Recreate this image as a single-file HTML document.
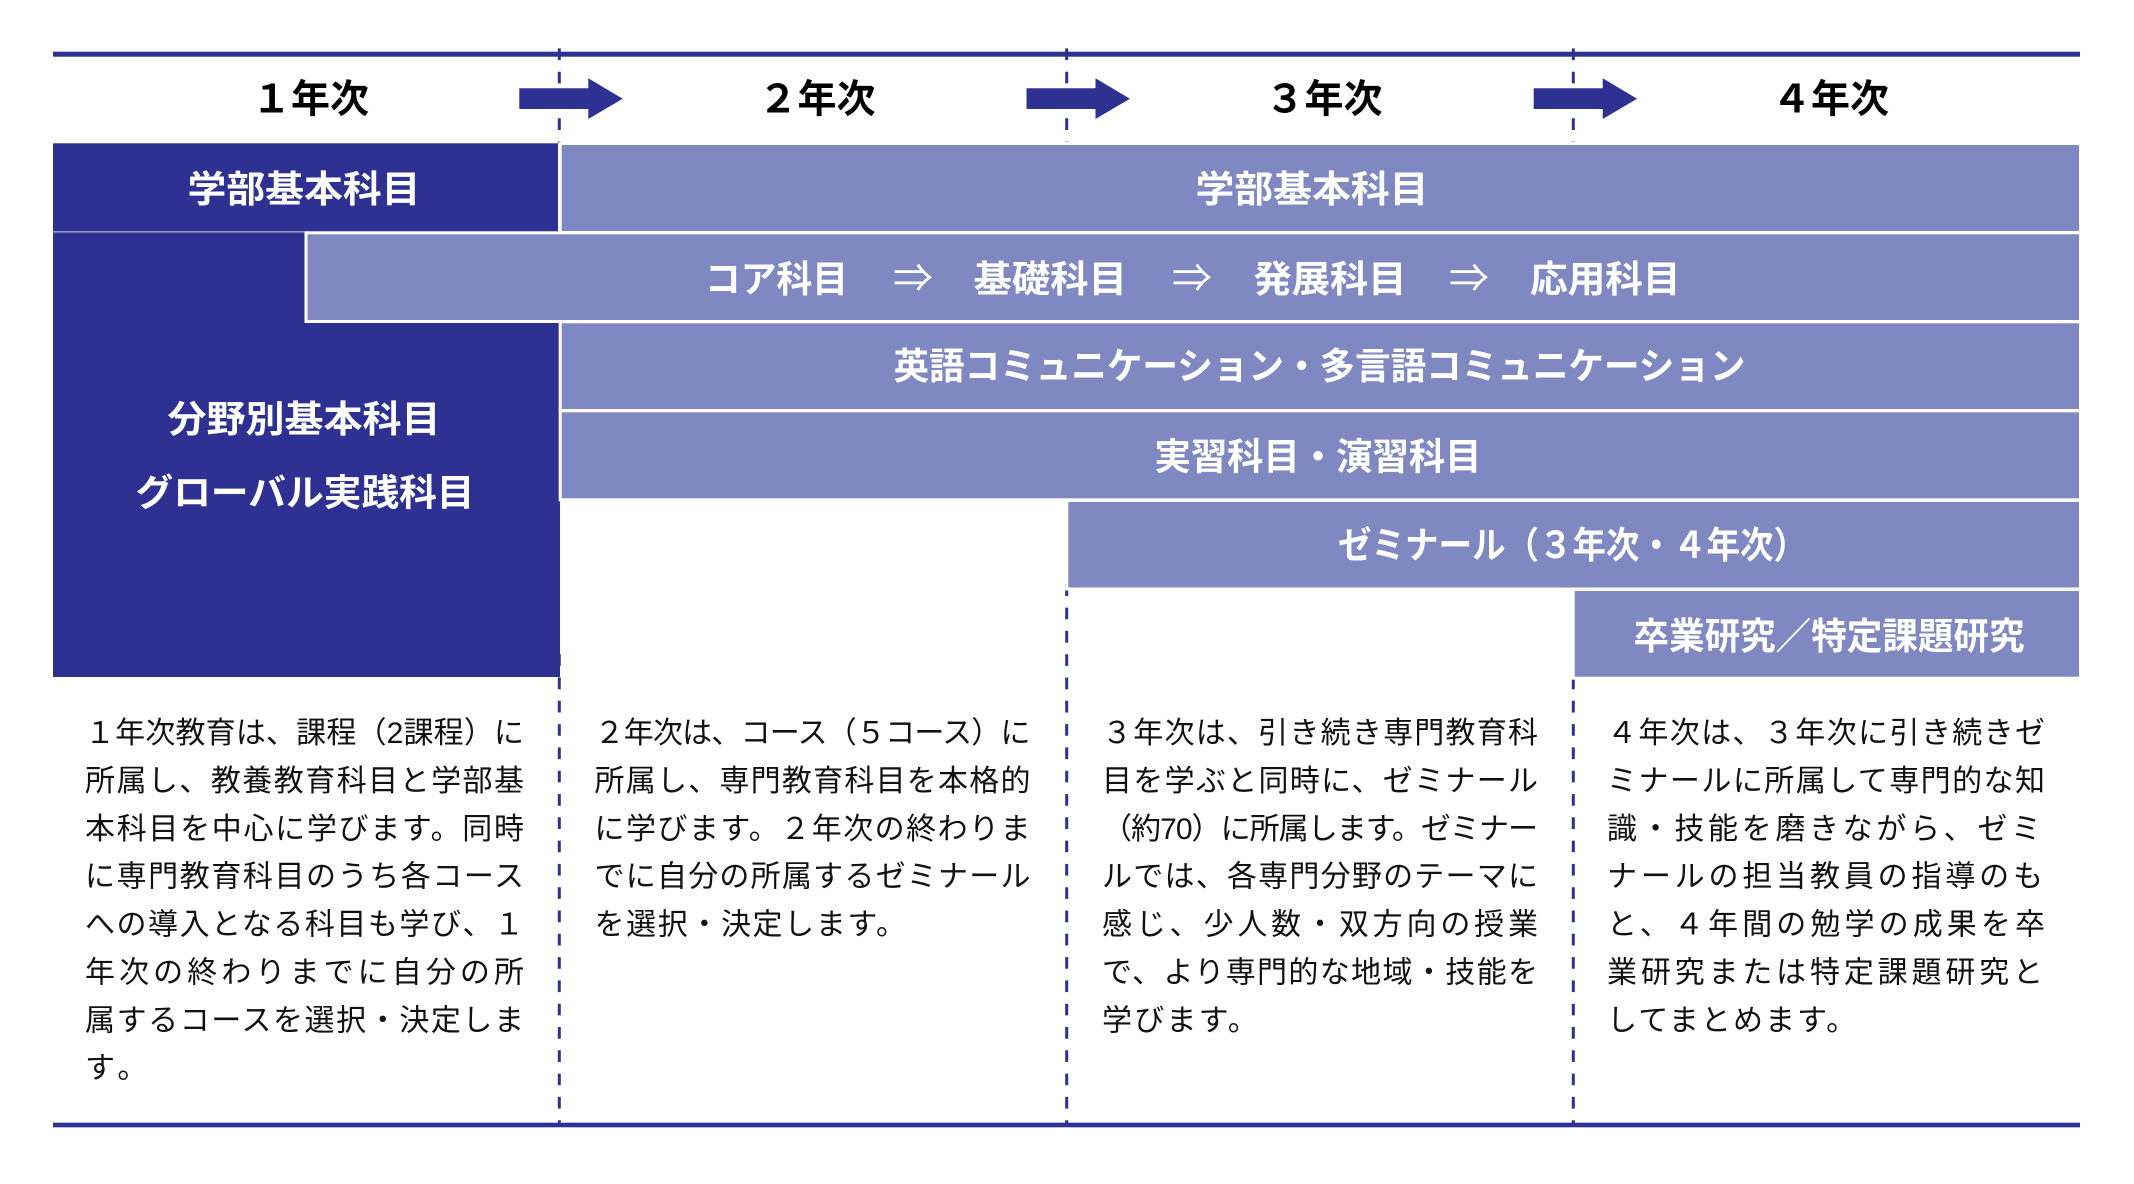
<!DOCTYPE html>
<html lang="ja">
<head>
<meta charset="utf-8">
<style>
  html,body{margin:0;padding:0;background:#ffffff;}
  body{width:2134px;height:1184px;overflow:hidden;}
  svg{display:block;}
  .hd{font-family:"Liberation Sans","Noto Sans CJK JP",sans-serif;font-weight:700;font-size:39px;fill:#000;}
  .bd{font-family:"Liberation Sans","Noto Sans CJK JP",sans-serif;font-weight:700;font-size:37px;fill:#ffffff;}
  .ar{font-family:"Noto Sans CJK JP","Liberation Sans",sans-serif;font-weight:400;font-size:40px;fill:#ffffff;}
  .tx{font-family:"Liberation Sans","Noto Sans CJK JP",sans-serif;font-weight:400;font-size:30px;fill:#111111;}
</style>
</head>
<body>
<svg width="2134" height="1184" viewBox="0 0 2134 1184" xmlns="http://www.w3.org/2000/svg">
  <rect x="0" y="0" width="2134" height="1184" fill="#ffffff"/>

  <!-- dashed column dividers (drawn under boxes) -->
  <g stroke="#2e3192" stroke-width="3" stroke-dasharray="11.7 11.6" fill="none">
    <line x1="559.3" y1="48.4" x2="559.3" y2="143"/>
    <line x1="1066.7" y1="48.4" x2="1066.7" y2="143"/>
    <line x1="1573.3" y1="48.4" x2="1573.3" y2="143"/>
    <line x1="559.3" y1="654.2" x2="559.3" y2="1125"/>
    <line x1="1066.7" y1="584.3" x2="1066.7" y2="1125"/>
    <line x1="1573.3" y1="677.5" x2="1573.3" y2="1125"/>
  </g>

  <!-- top and bottom rules -->
  <rect x="53" y="51.7" width="2027" height="5" fill="#2e3192"/>
  <rect x="53" y="1122.7" width="2027" height="4.6" fill="#2e3192"/>

  <!-- header arrows -->
  <g fill="#2e3192">
    <polygon points="519.3,88.3 588.3,88.3 588.3,78.3 622.7,98.7 588.3,119 588.3,109 519.3,109"/>
    <polygon points="1026.5,88.3 1095.5,88.3 1095.5,78.3 1129.9,98.7 1095.5,119 1095.5,109 1026.5,109"/>
    <polygon points="1533.7,88.3 1602.7,88.3 1602.7,78.3 1637.1,98.7 1602.7,119 1602.7,109 1533.7,109"/>
  </g>

  <!-- header labels -->
  <text class="hd" x="310.5" y="112.5" text-anchor="middle">１年次</text>
  <text class="hd" x="817" y="112.5" text-anchor="middle">２年次</text>
  <text class="hd" x="1324" y="112.5" text-anchor="middle">３年次</text>
  <text class="hd" x="1830.5" y="112.5" text-anchor="middle">４年次</text>

  <!-- dark boxes -->
  <rect x="53" y="143.3" width="505" height="88.2" fill="#2e3192"/>
  <rect x="53" y="233" width="507" height="444" fill="#2e3192"/>
  <rect x="53" y="232" width="253" height="1.2" fill="#6a6fb3"/>

  <!-- light boxes with white outlines -->
  <g fill="#8088c2" stroke="#ffffff" stroke-width="3">
    <rect x="560.2" y="143.5" width="1520.3" height="89"/>
    <rect x="306" y="232.8" width="1774.5" height="88.7"/>
    <rect x="560.2" y="321.8" width="1520.3" height="88.7"/>
    <rect x="560.2" y="410.8" width="1520.3" height="89"/>
    <rect x="1066.8" y="500.5" width="1013.7" height="88.5"/>
    <rect x="1573.2" y="589.5" width="507.3" height="88.7"/>
  </g>

  <!-- band labels -->
  <text class="bd" x="187.5" y="202" textLength="233" lengthAdjust="spacingAndGlyphs">学部基本科目</text>
  <text class="bd" x="1195.5" y="202" textLength="233" lengthAdjust="spacingAndGlyphs">学部基本科目</text>

  <text class="bd" x="705" y="292" textLength="143" lengthAdjust="spacingAndGlyphs">コア科目</text>
  <text class="ar" x="913" y="292" text-anchor="middle">⇒</text>
  <text class="bd" x="973.5" y="292" textLength="153.5" lengthAdjust="spacingAndGlyphs">基礎科目</text>
  <text class="ar" x="1192" y="292" text-anchor="middle">⇒</text>
  <text class="bd" x="1253.5" y="292" textLength="153" lengthAdjust="spacingAndGlyphs">発展科目</text>
  <text class="ar" x="1469" y="292" text-anchor="middle">⇒</text>
  <text class="bd" x="1530" y="292" textLength="150.5" lengthAdjust="spacingAndGlyphs">応用科目</text>

  <text class="bd" x="893.5" y="379" textLength="852" lengthAdjust="spacingAndGlyphs">英語コミュニケーション・多言語コミュニケーション</text>
  <text class="bd" x="1154.5" y="469.5" textLength="327" lengthAdjust="spacingAndGlyphs">実習科目・演習科目</text>
  <text class="bd" x="1338" y="558" textLength="469" lengthAdjust="spacingAndGlyphs">ゼミナール（３年次・４年次）</text>
  <text class="bd" x="1633.5" y="649" textLength="391" lengthAdjust="spacingAndGlyphs">卒業研究／特定課題研究</text>

  <text class="bd" x="167.5" y="432" textLength="273" lengthAdjust="spacingAndGlyphs">分野別基本科目</text>
  <text class="bd" x="135.5" y="505.7" textLength="339" lengthAdjust="spacingAndGlyphs">グローバル実践科目</text>

  <!-- column 1 text -->
  <g class="tx">
    <text class="tx" x="85" y="743.1" textLength="439" lengthAdjust="spacing">１年次教育は、課程（2課程）に</text>
    <text class="tx" x="85" y="791" textLength="439" lengthAdjust="spacing">所属し、教養教育科目と学部基</text>
    <text class="tx" x="85" y="838.8" textLength="439" lengthAdjust="spacing">本科目を中心に学びます。同時</text>
    <text class="tx" x="85" y="886.7" textLength="439" lengthAdjust="spacing">に専門教育科目のうち各コース</text>
    <text class="tx" x="85" y="934.5" textLength="439" lengthAdjust="spacing">への導入となる科目も学び、１</text>
    <text class="tx" x="85" y="982.4" textLength="439" lengthAdjust="spacing">年次の終わりまでに自分の所</text>
    <text class="tx" x="85" y="1030.3" textLength="439" lengthAdjust="spacing">属するコースを選択・決定しま</text>
    <text class="tx" x="85" y="1078.1" textLength="62.4" lengthAdjust="spacing">す。</text>
  </g>

  <!-- column 2 text -->
  <g>
    <text class="tx" x="594.5" y="743.1" textLength="436" lengthAdjust="spacing">２年次は、コース（５コース）に</text>
    <text class="tx" x="594.5" y="791" textLength="436" lengthAdjust="spacing">所属し、専門教育科目を本格的</text>
    <text class="tx" x="594.5" y="838.8" textLength="436" lengthAdjust="spacing">に学びます。２年次の終わりま</text>
    <text class="tx" x="594.5" y="886.7" textLength="436" lengthAdjust="spacing">でに自分の所属するゼミナール</text>
    <text class="tx" x="594.5" y="934.5" textLength="311.5" lengthAdjust="spacing">を選択・決定します。</text>
  </g>

  <!-- column 3 text -->
  <g>
    <text class="tx" x="1102" y="743.1" textLength="436" lengthAdjust="spacing">３年次は、引き続き専門教育科</text>
    <text class="tx" x="1102" y="791" textLength="436" lengthAdjust="spacing">目を学ぶと同時に、ゼミナール</text>
    <text class="tx" x="1102" y="838.8" textLength="436" lengthAdjust="spacing">（約70）に所属します。ゼミナー</text>
    <text class="tx" x="1102" y="886.7" textLength="436" lengthAdjust="spacing">ルでは、各専門分野のテーマに</text>
    <text class="tx" x="1102" y="934.5" textLength="436" lengthAdjust="spacing">感じ、少人数・双方向の授業</text>
    <text class="tx" x="1102" y="982.4" textLength="436" lengthAdjust="spacing">で、より専門的な地域・技能を</text>
    <text class="tx" x="1102" y="1030.3" textLength="155.8" lengthAdjust="spacing">学びます。</text>
  </g>

  <!-- column 4 text -->
  <g>
    <text class="tx" x="1607" y="743.1" textLength="438" lengthAdjust="spacing">４年次は、３年次に引き続きゼ</text>
    <text class="tx" x="1607" y="791" textLength="438" lengthAdjust="spacing">ミナールに所属して専門的な知</text>
    <text class="tx" x="1607" y="838.8" textLength="434" lengthAdjust="spacing">識・技能を磨きながら、ゼミ</text>
    <text class="tx" x="1607" y="886.7" textLength="436" lengthAdjust="spacing">ナールの担当教員の指導のも</text>
    <text class="tx" x="1607" y="934.5" textLength="438" lengthAdjust="spacing">と、４年間の勉学の成果を卒</text>
    <text class="tx" x="1607" y="982.4" textLength="436" lengthAdjust="spacing">業研究または特定課題研究と</text>
    <text class="tx" x="1607" y="1030.3" textLength="249.2" lengthAdjust="spacing">してまとめます。</text>
  </g>
</svg>
</body>
</html>
